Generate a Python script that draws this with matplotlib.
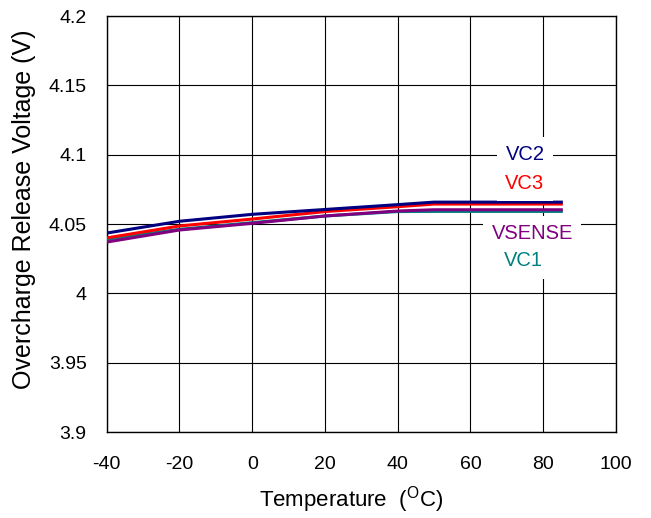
import matplotlib
matplotlib.use("Agg")
import matplotlib.pyplot as plt

plt.rcParams["font.family"] = ["Liberation Sans", "DejaVu Sans"]
plt.rcParams["mathtext.fontset"] = "custom"
plt.rcParams["mathtext.rm"] = "Liberation Sans"

# data
temps = [-40, -20, 0, 20, 40, 50, 85]
vc2 = [4.0435, 4.052, 4.057, 4.0605, 4.064, 4.0658, 4.0658]
vc3 = [4.040, 4.0486, 4.0536, 4.059, 4.0625, 4.0644, 4.0644]
vsense = [4.037, 4.0457, 4.0505, 4.0558, 4.0594, 4.0603, 4.0603]
vc1 = [4.039, 4.0462, 4.051, 4.0558, 4.059, 4.0591, 4.0591]

# label positions (data coords)
series = [
    ("VC1", vc1, "#008080", (74.7, 4.0234)),
    ("VSENSE", vsense, "#800080", (77.0, 4.0432)),
    ("VC3", vc3, "#ff0000", (75.0, 4.0792)),
    ("VC2", vc2, "#000080", (75.0, 4.1001)),
]

xticks = [-40, -20, 0, 20, 40, 60, 80, 100]
yticks = [3.9, 3.95, 4.0, 4.05, 4.1, 4.15, 4.2]
ylabels = ["3.9", "3.95", "4", "4.05", "4.1", "4.15", "4.2"]

fig = plt.figure(figsize=(6.51, 5.18), dpi=100)
ax = fig.add_axes([0.164, 0.166, 0.782, 0.803])

for name, vals, color, pos in series:
    ax.plot(temps, vals, color=color, lw=2.2, zorder=3)
    ax.text(pos[0], pos[1], name, color=color, fontsize=14.5,
            ha="center", va="center", zorder=4,
            bbox=dict(facecolor="white", edgecolor="none", pad=6))

ax.set_xlim(-40, 100)
ax.set_ylim(3.9, 4.2)
ax.set_xticks(xticks)
ax.set_xticklabels([str(t) for t in xticks])
ax.set_yticks(yticks)
ax.set_yticklabels(ylabels)
ax.tick_params(length=0, labelsize=14)
ax.tick_params(axis="x", pad=17)
ax.tick_params(axis="y", pad=14.5)
ax.grid(True, color="black", lw=0.8, zorder=1)
ax.set_axisbelow(True)
for s in ax.spines.values():
    s.set_linewidth(1.0)

ax.set_xlabel(r"Temperature  ($^{\mathrm{O}}$C)", fontsize=16)
ax.set_ylabel("Overcharge Release Voltage (V)", fontsize=18)
ax.xaxis.set_label_coords(0.479, -0.163)
ax.xaxis.label.set_va("center")
ax.yaxis.set_label_coords(-0.163, 0.536)
ax.yaxis.label.set_va("center")

fig.savefig("out.png", dpi=100)
